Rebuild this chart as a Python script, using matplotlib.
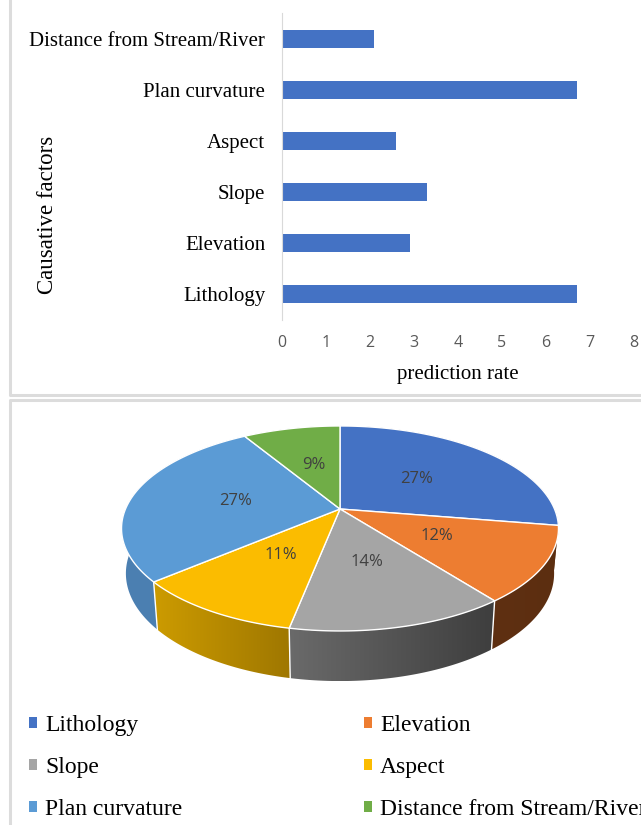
import numpy as np
import matplotlib
matplotlib.use('Agg')
import matplotlib.pyplot as plt
from matplotlib.patches import Polygon, Patch

factors = ['Lithology', 'Elevation', 'Slope', 'Aspect', 'Plan curvature', 'Distance from Stream/River']
rates = [6.7, 2.9, 3.3, 2.6, 6.7, 2.1]
percents = [27, 12, 14, 11, 27, 9]
xticks = [0, 1, 2, 3, 4, 5, 6, 7, 8]
colors = ['#4472C4', '#ED7D31', '#A5A5A5', '#FBBC00', '#5B9BD5', '#70AD47']
side_left = ['#5f3012', '#5f3012', '#6a6a6a', '#cc9b00', '#4c80b2', '#4c80b2']
side_right = ['#5f3012', '#5c2e10', '#3e3e3e', '#9f7700', '#4a7eb0', '#4a7eb0']

W, H = 641, 825
fig = plt.figure(figsize=(W / 100, H / 100), dpi=100)


def px_axes(x0, y0, x1, y1):
    # axes box given in image pixels, y going down
    return fig.add_axes([x0 / W, 1 - y1 / H, (x1 - x0) / W, (y1 - y0) / H])


# background layer in pixels, holds the panel frames and the pie
bg = fig.add_axes([0, 0, 1, 1])
bg.set_xlim(0, W)
bg.set_ylim(H, 0)
bg.axis('off')
frame = '#dcdcdc'
bg.plot([10, 10, 641], [0, 395, 395], color=frame, lw=2.2)
bg.plot([10, 10, 641], [825, 400, 400], color=frame, lw=2.2)

# bar chart
ax = px_axes(282, 13, 634, 320)
ax.barh(range(len(factors)), rates, height=0.35, color=colors[0])
ax.set_xlim(0, 8)
ax.set_ylim(-0.5, 5.5)
ax.set_yticks(range(len(factors)))
ax.set_yticklabels(factors, family='Liberation Serif', fontsize=15, color='black')
ax.set_xticks(xticks)
ax.tick_params(axis='x', length=0, pad=11, labelsize=11.5, labelcolor='#595959')
ax.tick_params(axis='y', length=0, pad=12)
for lab in ax.get_xticklabels():
    lab.set_family('Open Sans')
for s in ['top', 'right', 'bottom']:
    ax.spines[s].set_visible(False)
ax.spines['left'].set_color('#d9d9d9')
ax.set_xlabel('prediction rate', family='Liberation Serif', fontsize=15, labelpad=10)
fig.text(48 / W, 1 - 215 / H, 'Causative factors', family='Liberation Serif', fontsize=16.5,
         rotation=90, ha='center', va='center')


# pie drawn as a tilted disc with some perspective
cx, cy = 340, 509
Rx, Ry, k = 214.5, 98.8, 0.19


def project(a, r=1.0):
    # a is clockwise from the top in radians
    u = r * np.sin(a)
    v = -r * np.cos(a)
    d = 1 - k * v
    return cx + Rx * u / d, cy + Ry * v / d


def lower(x, y):
    return cx + 0.98 * (x - cx), y + 44 + 0.05 * (y - cy)


# slices come from the rates, the printed labels are the rounded ones in the picture
shares = np.array(rates) / sum(rates)
edges = np.concatenate([[0], np.cumsum(shares)]) * 2 * np.pi

# sides first, the top disc covers the back part of them
for i in range(len(rates)):
    a = np.linspace(edges[i], edges[i + 1], 80)
    x, y = project(a)
    xb, yb = lower(x, y)
    pts = np.column_stack([np.concatenate([x, xb[::-1]]), np.concatenate([y, yb[::-1]])])
    poly = Polygon(pts, closed=True, facecolor='none', edgecolor='none', zorder=2)
    bg.add_patch(poly)
    c0 = np.array(matplotlib.colors.to_rgb(side_left[i]))
    c1 = np.array(matplotlib.colors.to_rgb(side_right[i]))
    grad = np.linspace(0, 1, 128)[None, :, None]
    img = c0[None, None, :] * (1 - grad) + c1[None, None, :] * grad
    im = bg.imshow(img, extent=[pts[:, 0].min(), pts[:, 0].max(), pts[:, 1].max(), pts[:, 1].min()],
                   aspect='auto', zorder=2)
    im.set_clip_path(poly)
    # white seam only on the edges facing the viewer
    e = edges[i]
    if -np.cos(e) > 0.5:
        ex, ey = project(e)
        ebx, eby = lower(ex, ey)
        bg.plot([ex, ebx], [ey, eby], color='white', lw=1, zorder=3)
bg.set_xlim(0, W)
bg.set_ylim(H, 0)

for i in range(len(rates)):
    a = np.linspace(edges[i], edges[i + 1], 80)
    x, y = project(a)
    pts = np.column_stack([np.concatenate([[cx], x]), np.concatenate([[cy], y])])
    bg.add_patch(Polygon(pts, closed=True, facecolor=colors[i], edgecolor='white', lw=1, zorder=4))
    tx, ty = project((edges[i] + edges[i + 1]) / 2, 0.5)
    bg.text(tx, ty, f'{percents[i]}%', ha='center', va='center', family='Open Sans',
            fontsize=12, color='#404040', zorder=5)

# legend fills by column, so give it the left column first
order = [0, 2, 4, 1, 3, 5]
handles = [Patch(facecolor=colors[i], label=factors[i]) for i in order]
leg = bg.legend(handles=handles, ncol=2, loc='upper left', bbox_to_anchor=(29 / W, 1 - 715 / H),
                frameon=False, prop={'family': 'Liberation Serif', 'size': 17},
                handlelength=0.34, handleheight=0.34, handletextpad=0.34, labelspacing=0.88,
                columnspacing=7.7, borderpad=0, borderaxespad=0)

fig.savefig('out.png', dpi=100)
